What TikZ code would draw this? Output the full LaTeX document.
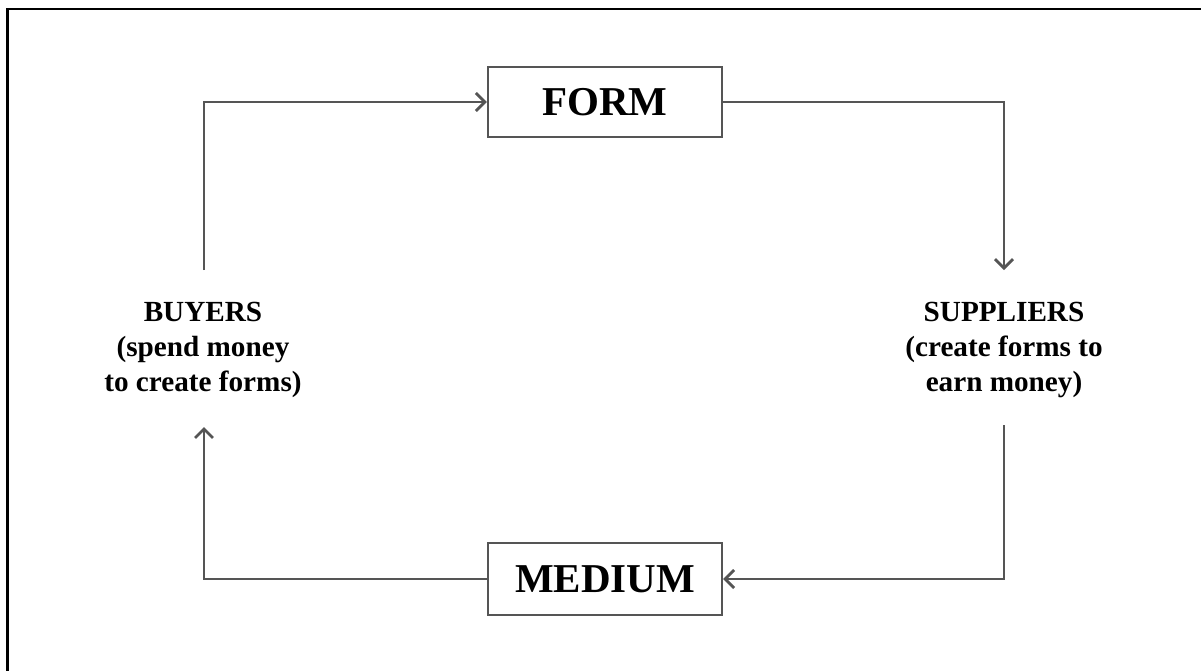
\documentclass[tikz,border=0pt]{standalone}
\usepackage{fontspec}
\setmainfont{Liberation Serif}
\usetikzlibrary{arrows.meta}
\definecolor{linegray}{RGB}{85,85,85}
\begin{document}
\begin{tikzpicture}[x=0.5pt,y=-0.5pt,
  box/.style={draw=linegray,line width=1.1pt,fill=white,minimum width=117pt,inner sep=0pt,font=\fontsize{20.5pt}{24pt}\selectfont\bfseries},
  label/.style={align=center,inner sep=0pt,font=\fontsize{14.6pt}{17.5pt}\selectfont\bfseries},
  conn/.style={draw=linegray,line width=1.4pt,-{Straight Barb[length=4.5pt,width=9pt,line width=1.4pt]}}]
\useasboundingbox (0,0) rectangle (1201,671);
\fill[white] (0,0) rectangle (1201,671);
\draw[line width=1.2pt] (1201,9) -- (7.5,9) -- (7.5,671);
\node[box,minimum height=35pt] (form) at (605,102) {FORM};
\node[box,minimum height=36pt] (medium) at (605,579) {MEDIUM};
\node[label] (buyers) at (203,350) {BUYERS\\(spend money\\to create forms)};
\node[label] (suppliers) at (1004,350) {SUPPLIERS\\(create forms to\\earn money)};
\coordinate (b1) at (204,270);
\coordinate (s1) at (1004,270);
\coordinate (s2) at (1004,425);
\coordinate (b2) at (204,427);
\draw[conn] (b1) |- (form.west);
\draw[conn] (form.east) -| (s1);
\draw[conn] (s2) |- (medium.east);
\draw[conn] (medium.west) -| (b2);
\end{tikzpicture}
\end{document}
